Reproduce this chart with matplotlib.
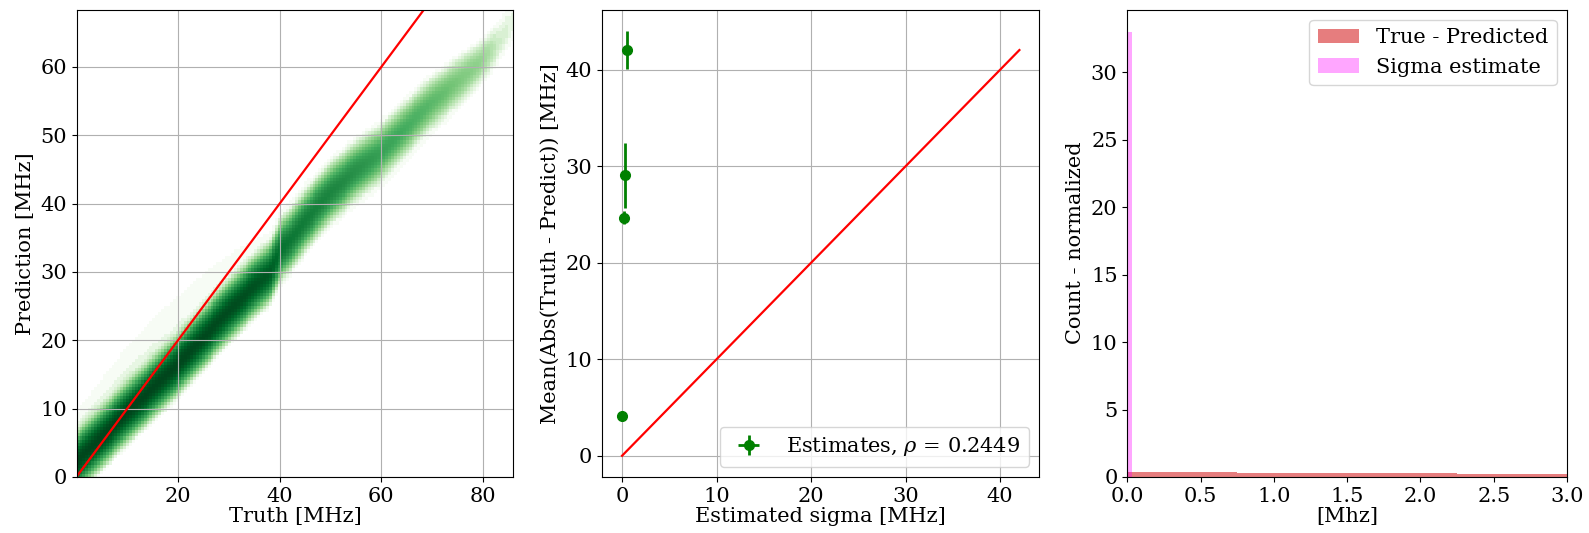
import numpy as np
import matplotlib
matplotlib.use("Agg")
import matplotlib.pyplot as plt
from matplotlib.colors import LogNorm

plt.rcParams['font.family'] = ['DejaVu Serif']
plt.rcParams['font.size'] = 15
plt.rcParams['mathtext.fontset'] = 'dejavuserif'

# ---------------- data ----------------
# Panel 1: 2D histogram ridge, described at knots along the truth axis
truth_knots  = [0, 5, 10, 15, 20, 25, 30, 35, 38, 40, 42, 45, 50, 55, 60, 65, 70, 75, 80, 83, 86]
ridge_center = [2.2, 5.8, 9.5, 13.0, 16.5, 20.4, 24.3, 27.9, 29.8, 33.0, 34.5, 37.5, 41.6, 44.8,
                47.5, 51.2, 54.8, 57.8, 61.0, 63.5, 67.0]
ridge_sigma  = [1.5, 1.5, 1.5, 1.5, 1.5, 1.5, 1.5, 1.5, 1.5, 1.6, 1.6, 1.6, 1.6, 1.6,
                1.6, 1.6, 1.6, 1.6, 1.5, 1.7, 2.0]
ridge_peak   = [450, 480, 480, 470, 460, 440, 420, 380, 320, 200, 170, 150, 120, 90,
                60, 45, 32, 20, 12, 4, 2]
halo_peak    = [2.6, 2.4, 2.2, 2.0, 1.8, 1.6, 1.4, 1.2, 1.1, 1.05, 1.05, 1.0, 1.0, 1.0,
                1.0, 0.9, 0.8, 0.6, 0.5, 0.4, 0.3]
halo_offset  = [3.0, 4.0, 4.5, 5.0, 5.0, 5.0, 4.5, 4.0, 3.5, 3.0, 2.0, 1.0, 0.0, -1.0,
                -2.0, -2.0, -2.0, -2.0, -1.0, 0.0, 0.0]
halo_sigma   = [3.0, 3.5, 4.0, 4.5, 4.5, 4.5, 4.5, 4.5, 4.5, 4.5, 4.5, 5.0, 5.0, 5.0,
                5.0, 5.0, 4.5, 4.0, 3.5, 3.0, 3.0]

# Panel 2: estimates
sigma_est   = [0.0, 0.21, 0.35, 0.49]
mean_abs    = [4.12, 24.67, 29.05, 42.05]
mean_abs_err = [0.3, 0.7, 3.4, 2.0]
sigma_err   = [0.05, 0.05, 0.05, 0.05]
rho_text    = '0.2449'

# Panel 3: normalized histograms
diff_edges   = [0.0, 0.25, 0.5, 0.75, 1.0, 1.25, 1.5, 1.75, 2.0, 2.25, 2.5, 2.75, 3.0]
diff_heights = [0.35, 0.35, 0.34, 0.33, 0.32, 0.31, 0.30, 0.28, 0.26, 0.24, 0.23, 0.21]
sig_edges    = [0.0, 0.03]
sig_heights  = [33.0]

# ---------------- figure ----------------
fig = plt.figure(figsize=(15.89, 5.33), dpi=100)
W, H = 1589.0, 533.0
def pos(l, r, t, b):
    return [l / W, (H - b) / H, (r - l) / W, (b - t) / H]

ax1 = fig.add_axes(pos(76.6, 513.5, 9.5, 477.0))
ax2 = fig.add_axes(pos(601.7, 1039.3, 9.5, 477.0))
ax3 = fig.add_axes(pos(1127.3, 1567.0, 9.5, 477.0))

# ---- Panel 1 ----
xlim1 = (0.05, 86.0)
ylim1 = (0.0, 68.4)
t_edges = np.linspace(xlim1[0], xlim1[1], 151)
p_edges = np.linspace(ylim1[0], ylim1[1], 151)
tc = 0.5 * (t_edges[1:] + t_edges[:-1])
pc = 0.5 * (p_edges[1:] + p_edges[:-1])
C = np.interp(tc, truth_knots, ridge_center)
S = np.interp(tc, truth_knots, ridge_sigma)
P = np.interp(tc, truth_knots, ridge_peak)
HP = np.interp(tc, truth_knots, halo_peak)
HO = np.interp(tc, truth_knots, halo_offset)
HS = np.interp(tc, truth_knots, halo_sigma)
counts = (P[None, :] * np.exp(-0.5 * ((pc[:, None] - C[None, :]) / S[None, :]) ** 2)
          + HP[None, :] * np.exp(-0.5 * ((pc[:, None] - C[None, :] - HO[None, :]) / HS[None, :]) ** 2))
counts = np.floor(counts)
masked = np.ma.masked_less(counts, 1)
ax1.pcolormesh(t_edges, p_edges, masked, cmap='Greens',
               norm=LogNorm(vmin=1, vmax=counts.max()), zorder=0.5)
ax1.plot([0, 90], [0, 90], color='red', lw=1.6)
ax1.set_xlim(*xlim1)
ax1.set_ylim(*ylim1)
ax1.set_xticks([20, 40, 60, 80])
ax1.set_yticks([0, 10, 20, 30, 40, 50, 60])
ax1.grid(True)
ax1.set_xlabel('Truth [MHz]', labelpad=1)
ax1.set_ylabel('Prediction [MHz]')

# ---- Panel 2 ----
ax2.errorbar(sigma_est, mean_abs, yerr=mean_abs_err, xerr=sigma_err, fmt='o',
             color='green', ms=7, elinewidth=2,
             label=r'Estimates, $\rho$ = ' + rho_text)
mx = max(mean_abs)
ax2.plot([0, mx], [0, mx], color='red', lw=1.6)
ax2.grid(True)
ax2.set_xlabel('Estimated sigma [MHz]', labelpad=1)
ax2.set_ylabel('Mean(Abs(Truth - Predict)) [MHz]')
ax2.legend(loc='lower right')

# ---- Panel 3 ----
dc = 0.5 * (np.array(diff_edges[1:]) + np.array(diff_edges[:-1]))
ax3.hist(dc, bins=diff_edges, weights=diff_heights, color='tab:red', alpha=0.6,
         label='True - Predicted')
sc = 0.5 * (np.array(sig_edges[1:]) + np.array(sig_edges[:-1]))
ax3.hist(sc, bins=sig_edges, weights=sig_heights, color='magenta', alpha=0.35,
         label='Sigma estimate')
ax3.set_xlim(0, 3)
ax3.set_xlabel('[Mhz]', labelpad=1)
ax3.set_ylabel('Count - normalized')
ax3.legend(loc='upper right')

fig.savefig('out.png', dpi=100)
